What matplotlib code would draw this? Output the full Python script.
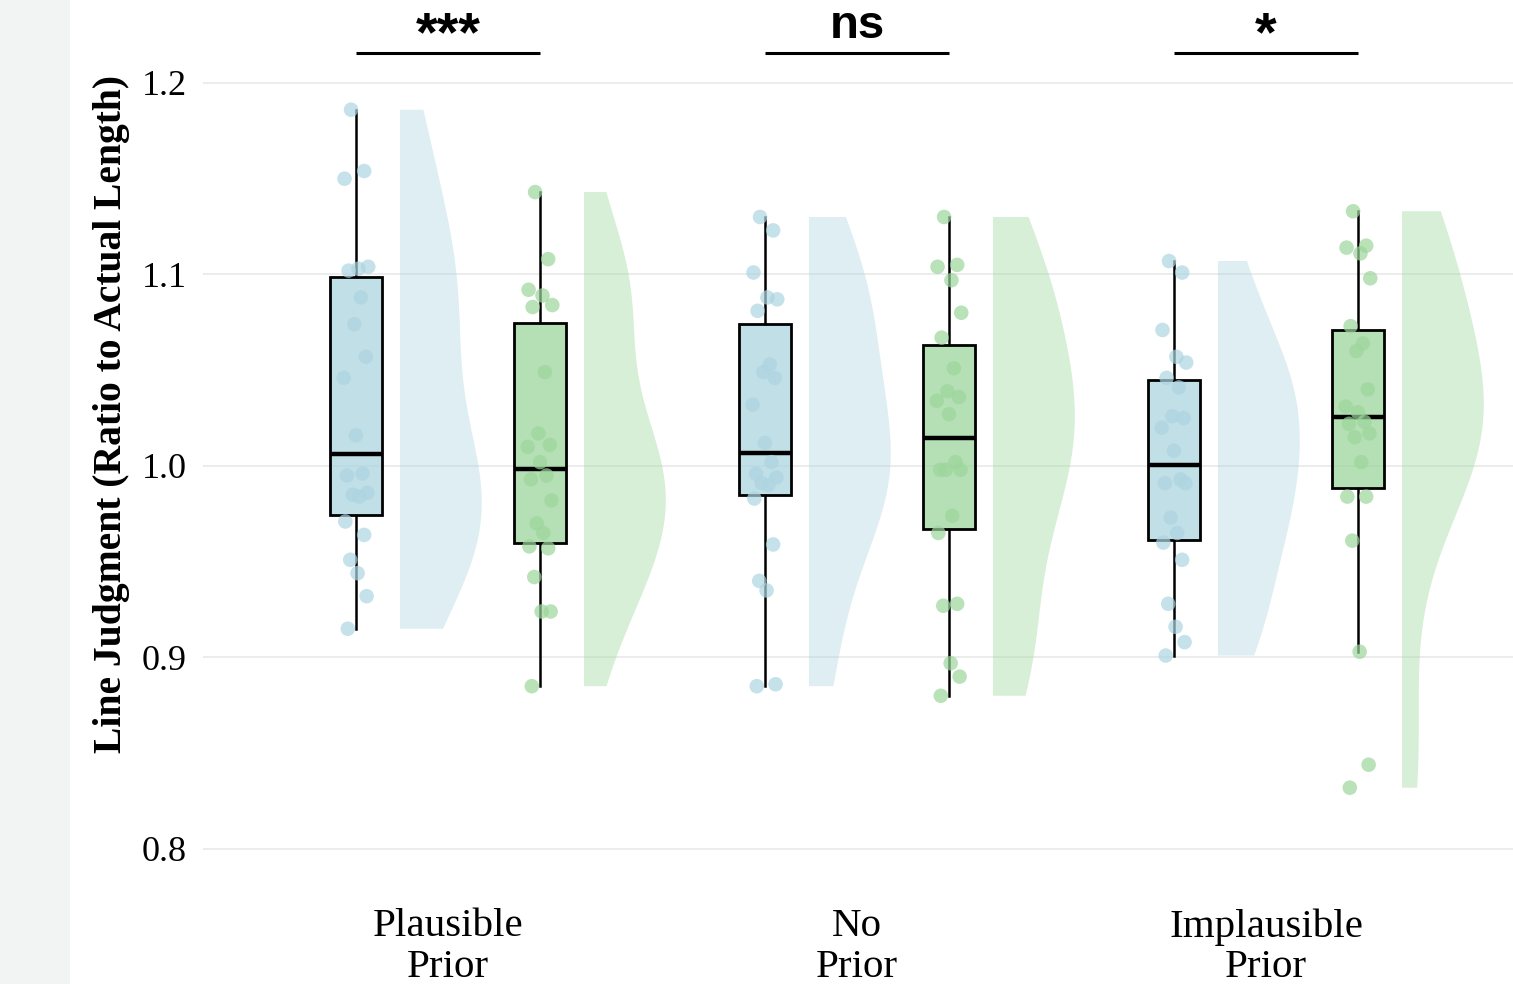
import numpy as np
import matplotlib
matplotlib.use("Agg")
from matplotlib import pyplot as plt
from matplotlib.patches import Rectangle

groups = ["Plausible\nPrior", "No\nPrior", "Implausible\nPrior"]
significance = ["***", "ns", "*"]

# judgments (ratio to actual length)
blue_plausible = [1.186, 1.154, 1.150, 1.103, 1.104, 1.102, 1.088, 1.074, 1.057, 1.046, 1.016,
                  0.996, 0.995, 0.986, 0.985, 0.984, 0.971, 0.964, 0.951, 0.944, 0.932, 0.915]
green_plausible = [1.143, 1.108, 1.092, 1.089, 1.084, 1.083, 1.049, 1.017, 1.011, 1.010, 1.002,
                   0.995, 0.993, 0.982, 0.970, 0.965, 0.958, 0.957, 0.942, 0.924, 0.924, 0.885]
blue_no_prior = [1.130, 1.123, 1.101, 1.088, 1.087, 1.081, 1.053, 1.049, 1.046, 1.032, 1.012,
                 1.002, 0.996, 0.994, 0.991, 0.990, 0.983, 0.959, 0.940, 0.935, 0.886, 0.885]
green_no_prior = [1.130, 1.105, 1.104, 1.097, 1.080, 1.067, 1.051, 1.039, 1.036, 1.034, 1.027,
                  1.002, 0.998, 0.998, 0.998, 0.974, 0.965, 0.928, 0.927, 0.897, 0.890, 0.880]
blue_implausible = [1.107, 1.101, 1.071, 1.057, 1.054, 1.046, 1.041, 1.026, 1.025, 1.020, 1.008,
                    0.993, 0.991, 0.991, 0.973, 0.965, 0.960, 0.951, 0.928, 0.916, 0.908, 0.901]
green_implausible = [1.133, 1.115, 1.114, 1.111, 1.098, 1.073, 1.064, 1.060, 1.040, 1.031, 1.028,
                     1.023, 1.022, 1.017, 1.015, 1.002, 0.984, 0.984, 0.961, 0.903, 0.844, 0.832]

blue_data = [blue_plausible, blue_no_prior, blue_implausible]
green_data = [green_plausible, green_no_prior, green_implausible]

blue = "#add5e0"
green = "#9cd69c"

# fixed horizontal spread for the dots
jitter = np.array([-0.012, 0.02, -0.028, 0.006, 0.03, -0.018, 0.012, -0.004, 0.024, -0.03, 0.0,
                   0.016, -0.022, 0.028, -0.008, 0.008, -0.026, 0.02, -0.014, 0.004, 0.026, -0.02])

fig = plt.figure(figsize=(15.13, 9.84), dpi=100)
fig.patch.set_facecolor("#f2f4f3")
fig.add_artist(Rectangle((70 / 1513, 0), 1 - 70 / 1513, 1, transform=fig.transFigure,
                         facecolor="white", edgecolor="none", zorder=0))

ax = fig.add_axes([203 / 1513, 104 / 984, 1310 / 1513, 880 / 984])
ax.set_facecolor("white")

x = np.arange(len(groups))
box_w = 0.127
offset = 0.225
eye_gap = 0.1076

for data, shift, color in [(blue_data, -offset, blue), (green_data, offset, green)]:
    pos = x + shift
    bp = ax.boxplot(data, positions=pos, widths=box_w, whis=1.5, showfliers=False,
                    patch_artist=True, showcaps=False, manage_ticks=False)
    for b in bp["boxes"]:
        b.set_facecolor((*matplotlib.colors.to_rgb(color), 0.75))
        b.set_edgecolor("black")
        b.set_linewidth(2.0)
        b.set_zorder(3)
    for w in bp["whiskers"]:
        w.set_color("black")
        w.set_linewidth(1.8)
        w.set_zorder(2)
    for m in bp["medians"]:
        m.set_color("black")
        m.set_linewidth(3.2)
        m.set_zorder(4)

    vp = ax.violinplot(data, positions=pos + eye_gap, widths=0.4, showextrema=False,
                       side="high", points=200)
    for body in vp["bodies"]:
        body.set_facecolor(color)
        body.set_alpha(0.4)
        body.set_edgecolor("none")
        body.set_linewidth(0)

    for p, vals in zip(pos, data):
        ax.scatter(p + jitter[:len(vals)], vals, s=110, color=color, alpha=0.7,
                   edgecolors="none", zorder=5)

# significance brackets
for i, label in enumerate(significance):
    ax.plot([x[i] - offset, x[i] + offset], [1.2157, 1.2157], color="black", lw=2.2,
            solid_capstyle="butt", clip_on=False)
    if label == "ns":
        ax.text(x[i], 1.2235, label, ha="center", va="baseline", fontsize=34,
                fontweight="bold", family="Liberation Sans")
    else:
        ax.text(x[i], 1.2172, label, ha="center", va="baseline", fontsize=40,
                fontweight="bold", family="Liberation Sans")

ax.set_xlim(-0.599, 2.604)
ax.set_ylim(0.7838, 1.2433)
ax.set_yticks([0.8, 0.9, 1.0, 1.1, 1.2])
ax.set_yticklabels(["0.8", "0.9", "1.0", "1.1", "1.2"], family="Liberation Serif", fontsize=26)
ax.set_xticks(x)
ax.set_xticklabels(groups, family="Liberation Serif", fontsize=29.5, linespacing=1.12)
ax.tick_params(axis="both", length=0)
ax.tick_params(axis="y", pad=11.5)
ax.tick_params(axis="x", pad=20.5)
ax.grid(axis="y", color="#ebebeb", lw=1.3)
ax.set_axisbelow(True)
for s in ax.spines.values():
    s.set_visible(False)

fig.text(112 / 1513, 1 - 414 / 984, "Line Judgment (Ratio to Actual Length)", rotation=90,
         ha="center", va="center", fontsize=28.5, fontweight="bold", family="Liberation Serif")

fig.savefig("out.png", dpi=100, facecolor=fig.get_facecolor())
